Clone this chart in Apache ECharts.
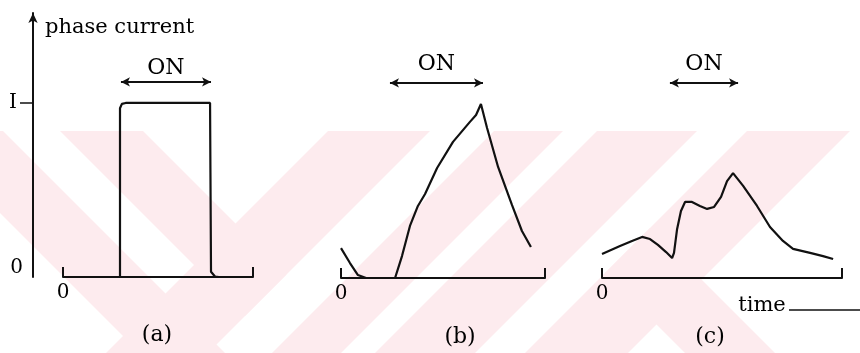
<!DOCTYPE html>
<html>
<head>
<meta charset="utf-8">
<script src="https://cdn.jsdelivr.net/npm/echarts@6/dist/echarts.min.js"></script>
<style>
html,body{margin:0;padding:0;background:#fff;}
#main{width:860px;height:353px;}
</style>
</head>
<body>
<div id="main"></div>
<script>
// ---- data (time in arbitrary units 0..10, current relative to I = 1) ----
const xTickValues = [0, 10];
const xLabelValues = [0];
const yLabelValues = [0, 1];
const yLabelText = ['0', 'I'];
const yTickValues = [1];
const panelLabels = ['(a)', '(b)', '(c)'];
const onLabel = 'ON';
const yAxisTitle = 'phase current';
const timeTitle = 'time';

const currentA = [[3.0,0],[3.0,0.97],[3.1,0.995],[3.3,1.0],[7.74,1.0],[7.76,0.6],[7.79,0.03],[8.0,0.003],[8.2,0]];
const currentB = [[0,0.172],[0.44,0.086],[0.83,0.017],[1.23,0],[2.65,0],[2.99,0.126],[3.38,0.299],[3.77,0.414],[4.12,0.483],[4.71,0.632],[5.49,0.782],[6.32,0.897],[6.62,0.937],[6.86,1.0],[7.16,0.862],[7.70,0.638],[8.38,0.420],[8.87,0.270],[9.31,0.178]];
const currentC = [[0,0.138],[0.75,0.184],[1.25,0.213],[1.67,0.236],[2.0,0.224],[2.33,0.190],[2.67,0.149],[2.92,0.115],[3.0,0.144],[3.13,0.282],[3.29,0.385],[3.46,0.437],[3.75,0.437],[4.08,0.414],[4.38,0.397],[4.67,0.408],[4.96,0.466],[5.21,0.557],[5.46,0.603],[5.88,0.529],[6.46,0.414],[7.0,0.293],[7.54,0.213],[7.96,0.167],[8.67,0.144],[9.21,0.126],[9.63,0.109]];

const onA = [3.05, 7.79];
const onB = [2.40, 6.96];
const onC = [2.83, 5.67];
const onLevel = 1.121;
const yMax = 1.517;

// ---- styles ----
const FONT = 'DejaVu Serif';
const INK = '#111';
const PINK = '#fdebee';

const chart = echarts.init(document.getElementById('main'), null, {renderer:'canvas'});

function xAx(gi){
  return {
    type:'value', gridIndex:gi, min:0, max:10,
    axisLine:{show:true, onZero:false, lineStyle:{color:INK, width:2}},
    axisTick:{show:true, inside:true, length:10, customValues:xTickValues, lineStyle:{color:INK, width:2}},
    axisLabel:{show:true, customValues:xLabelValues, color:'#000', fontFamily:FONT, fontSize:20, margin:6},
    splitLine:{show:false}
  };
}
function yHidden(gi){
  return {type:'value', gridIndex:gi, min:0, max:yMax, show:false, splitLine:{show:false}};
}
function onMark(range, dist){
  return {
    silent:true, symbol:['arrow','arrow'], symbolSize:[7,9],
    lineStyle:{color:INK, width:2, type:'solid'},
    label:{show:true, position:'middle', formatter:onLabel, color:'#000', fontFamily:FONT, fontSize:22, distance:dist},
    emphasis:{disabled:true},
    data:[[{coord:[range[0], onLevel]},{coord:[range[1], onLevel]}]]
  };
}
function lineSeries(gi, data, mark){
  return {
    type:'line', xAxisIndex:gi, yAxisIndex:gi, data:data,
    showSymbol:false, symbol:'none', smooth:false, clip:false,
    lineStyle:{color:INK, width:2.2}, silent:true,
    markLine:mark, z:5
  };
}

// watermark bands (decorative background)
const wm = [
  [[0,131],[3,131],[225,353],[140,353],[0,213]],
  [[60,131],[143,131],[286.5,274.5],[245,316]],
  [[328,131],[430,131],[208,353],[106,353]],
  [[494,131],[563,131],[341,353],[272,353]],
  [[597,131],[697,131],[475,353],[375,353]],
  [[747,131],[850,131],[628,353],[525,353]],
  [[605,273],[650,228],[775,353],[685,353]]
];
const graphics = wm.map(p => ({type:'polygon', shape:{points:p}, style:{fill:PINK}, z:-10, silent:true}));
const labelPos = [[157,335],[460,337],[710,337]];
panelLabels.forEach((t,i)=>graphics.push({type:'text', x:labelPos[i][0], y:labelPos[i][1], z:10, silent:true,
  style:{text:t, fill:'#000', font:'22px "'+FONT+'"', align:'center', verticalAlign:'middle'}}));
graphics.push({type:'text', x:762, y:306, z:10, silent:true,
  style:{text:timeTitle, fill:'#000', font:'21px "'+FONT+'"', align:'center', verticalAlign:'middle'}});
graphics.push({type:'line', shape:{x1:789, y1:310, x2:860, y2:310}, style:{stroke:INK, lineWidth:1.5}, z:10, silent:true});

chart.setOption({
  animation:false,
  backgroundColor:'#fff',
  graphic:graphics,
  grid:[
    {left:63, width:190, top:13, height:264},
    {left:341, width:204, top:14, height:264},
    {left:602, width:240, top:14, height:264}
  ],
  xAxis:[xAx(0), xAx(1), xAx(2)],
  yAxis:[
    {
      type:'value', gridIndex:0, min:0, max:yMax, offset:30,
      name:yAxisTitle, nameLocation:'end', nameGap:-15,
      nameTextStyle:{color:'#000', fontFamily:FONT, fontSize:21, align:'left', verticalAlign:'middle', padding:[0,0,0,12]},
      axisLine:{show:true, onZero:false, symbol:['none','arrow'], symbolSize:[7,10], lineStyle:{color:INK, width:2}},
      axisTick:{show:true, customValues:yTickValues, length:13, lineStyle:{color:INK, width:1.5}},
      axisLabel:{show:true, customValues:yLabelValues, margin:10, color:'#000', fontFamily:FONT, fontSize:20,
        formatter:function(v){ return v===0 ? '{z|'+yLabelText[0]+'}' : '{i|'+yLabelText[1]+'}'; },
        rich:{z:{fontFamily:FONT, fontSize:20, color:'#000', padding:[0,0,18,0]}, i:{fontFamily:FONT, fontSize:20, color:'#000', padding:[0,6,0,0]}}},
      splitLine:{show:false}
    },
    yHidden(1), yHidden(2)
  ],
  series:[
    lineSeries(0, currentA, onMark(onA, 3)),
    lineSeries(1, currentB, onMark(onB, 8)),
    lineSeries(2, currentC, onMark(onC, 8))
  ]
});
</script>
</body>
</html>
